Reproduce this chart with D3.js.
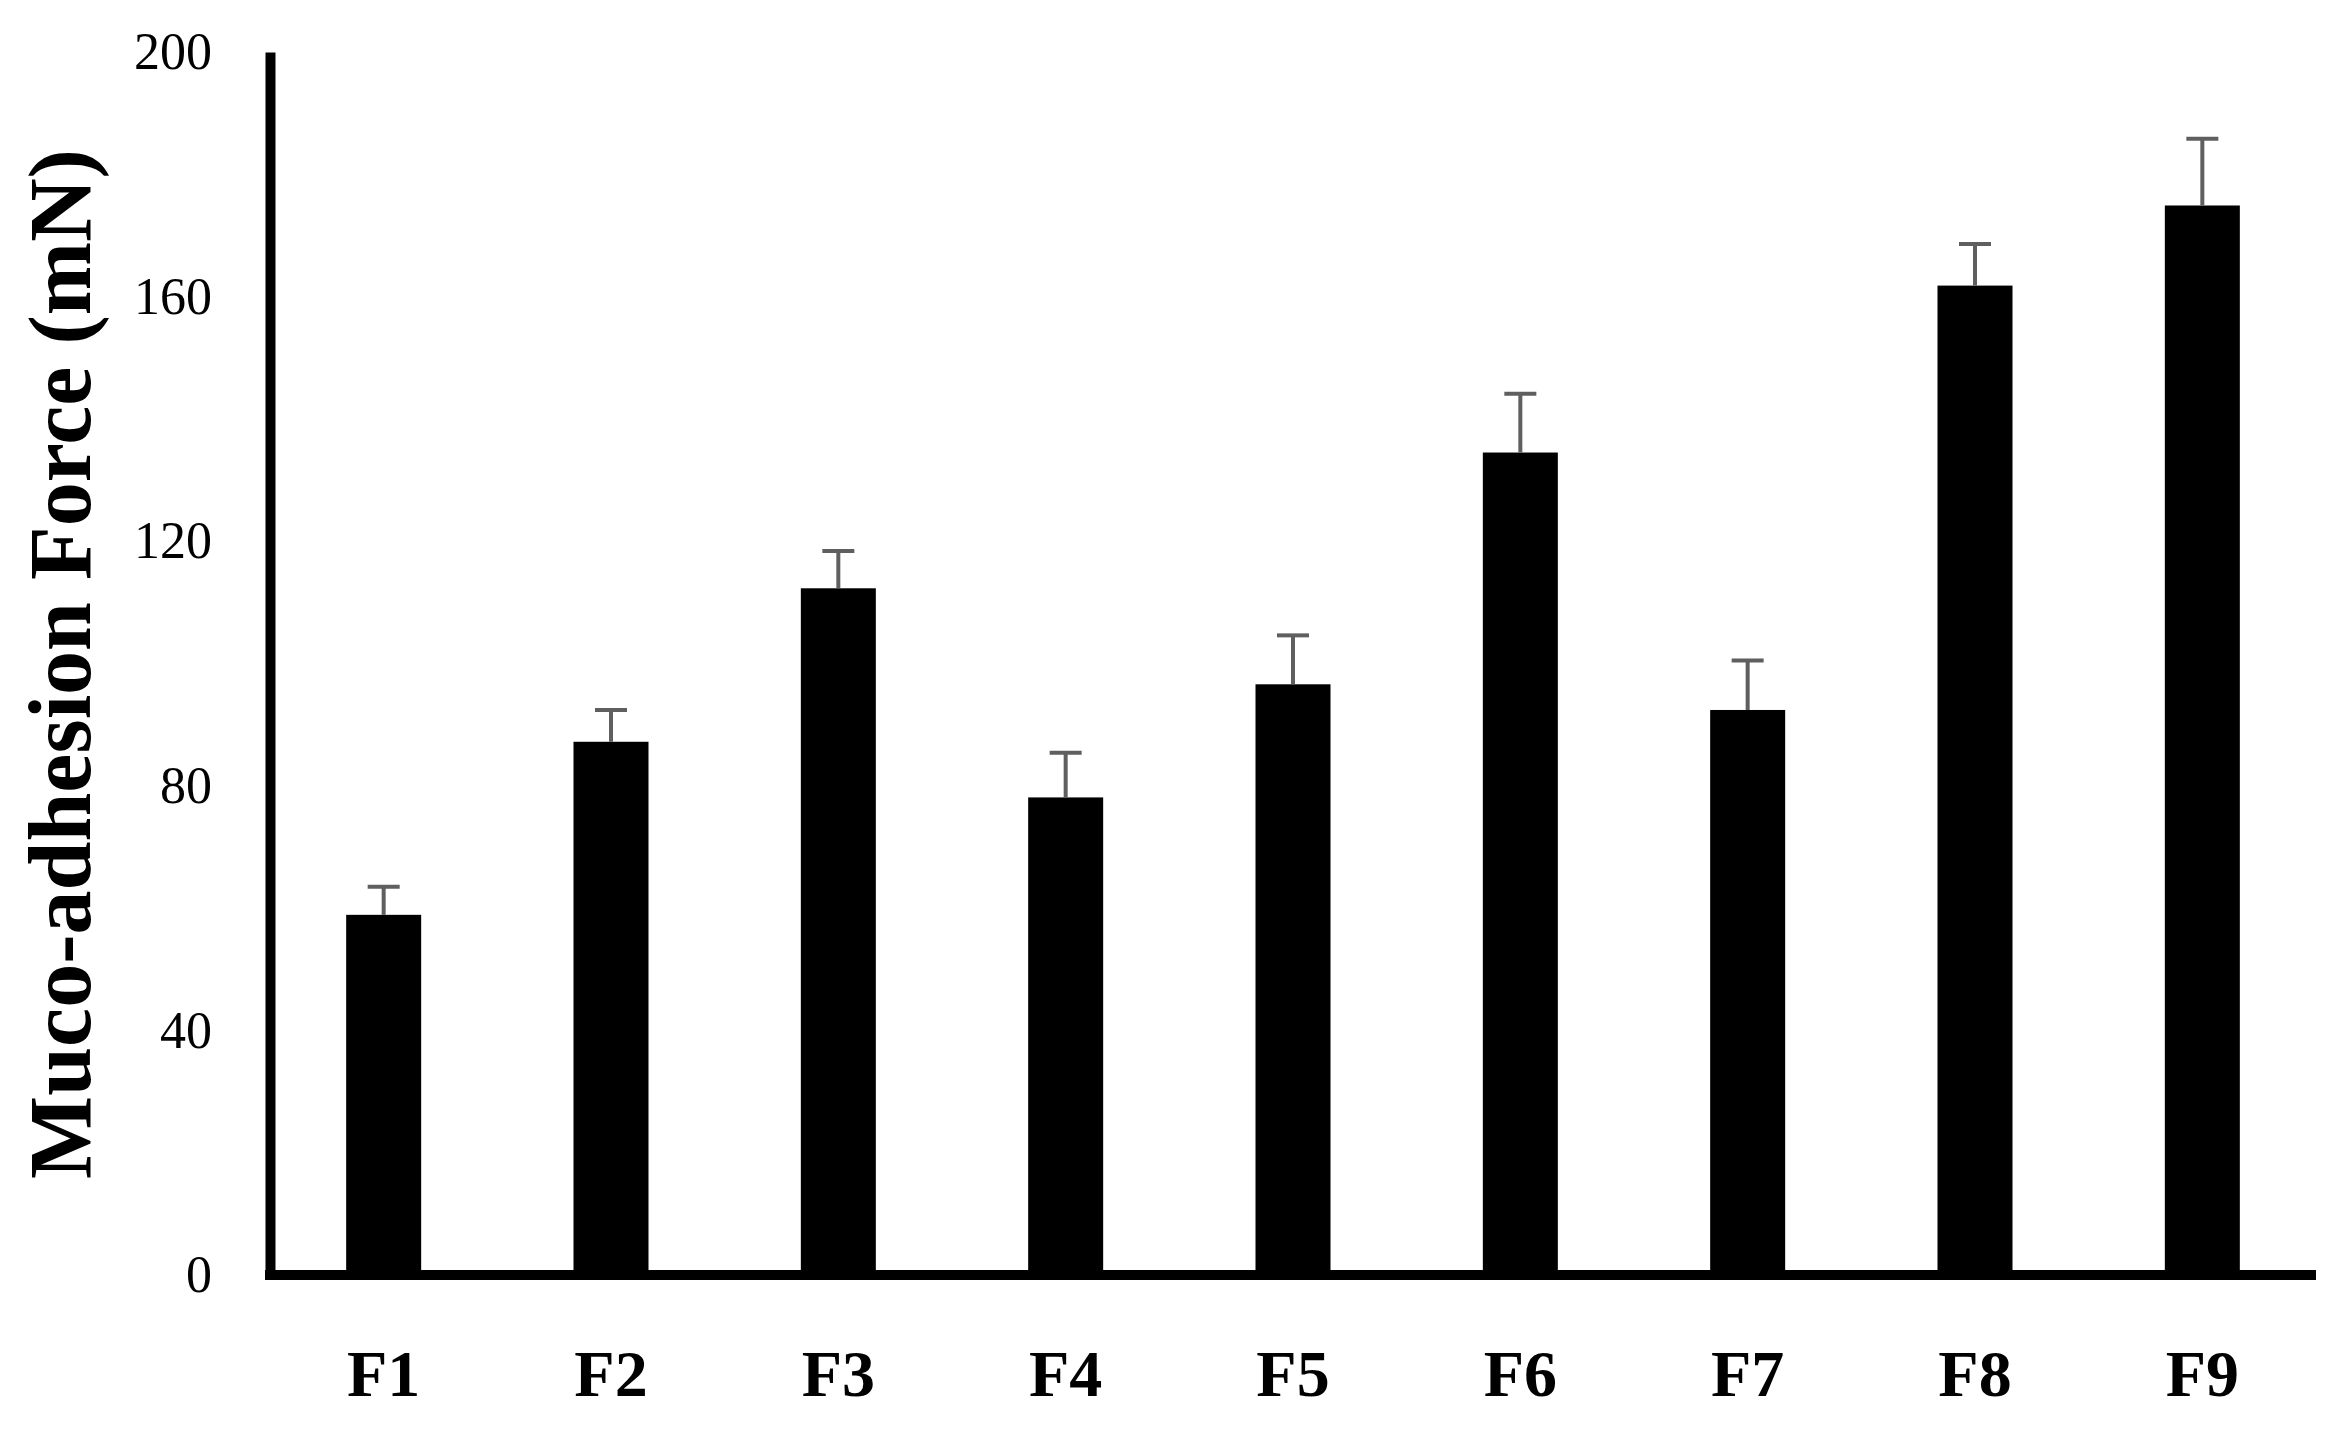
<!DOCTYPE html>
<html>
<head>
<meta charset="utf-8">
<script src="https://cdn.jsdelivr.net/npm/d3@7"></script>
<style>
  body { margin: 0; background: #fff; }
  .tick text { font-family: "Liberation Serif", "DejaVu Serif", serif; fill: #000; }
</style>
</head>
<body>
<div id="chart"></div>
<script>
var categories = ["F1", "F2", "F3", "F4", "F5", "F6", "F7", "F8", "F9"];
var force = [58.9, 87.2, 112.3, 78.1, 96.6, 134.5, 92.4, 161.8, 174.9];
var err = [4.6, 5.2, 6.1, 7.3, 8.0, 9.6, 8.1, 6.8, 10.9];
var yTicks = [0, 40, 80, 120, 160, 200];

var width = 2328, height = 1441;
var left = 270, right = 2316, top_y = 52, base_y = 1275;

var svg = d3.select('#chart').append('svg')
  .attr('width', width)
  .attr('height', height)
  .style('background', '#fff');

var x = d3.scaleBand()
  .domain(categories)
  .range([left, right])
  .padding(0);

var y = d3.scaleLinear()
  .domain([0, 200])
  .range([base_y, top_y]);

var barW = 75;

// bars
svg.append('g').selectAll('rect')
  .data(categories)
  .enter().append('rect')
  .attr('x', function(d) { return x(d) + x.bandwidth()/2 - barW/2; })
  .attr('y', function(d, i) { return y(force[i]); })
  .attr('width', barW)
  .attr('height', function(d, i) { return y(0) - y(force[i]); })
  .attr('fill', '#000');

// error bars (upper only)
var eb = svg.append('g')
  .attr('stroke', '#5f5f5f')
  .attr('stroke-width', 4);

eb.selectAll('line.v')
  .data(categories)
  .enter().append('line')
  .attr('class', 'v')
  .attr('x1', function(d) { return x(d) + x.bandwidth()/2; })
  .attr('x2', function(d) { return x(d) + x.bandwidth()/2; })
  .attr('y1', function(d, i) { return y(force[i]); })
  .attr('y2', function(d, i) { return y(force[i] + err[i]); });

eb.selectAll('line.cap')
  .data(categories)
  .enter().append('line')
  .attr('class', 'cap')
  .attr('x1', function(d) { return x(d) + x.bandwidth()/2 - 16; })
  .attr('x2', function(d) { return x(d) + x.bandwidth()/2 + 16; })
  .attr('y1', function(d, i) { return y(force[i] + err[i]); })
  .attr('y2', function(d, i) { return y(force[i] + err[i]); });

// y axis
var yAxis = svg.append('g')
  .attr('transform', `translate(${left}, 0)`)
  .call(d3.axisLeft(y).tickValues(yTicks).tickSize(0).tickPadding(58));

yAxis.select('.domain')
  .attr('stroke', '#000')
  .attr('stroke-width', 10);

yAxis.selectAll('.tick text')
  .style('font-size', '52px');

// x axis
var xAxis = svg.append('g')
  .attr('transform', `translate(0, ${base_y})`)
  .call(d3.axisBottom(x).tickSize(0).tickPadding(74));

xAxis.select('.domain').remove();
xAxis.append('line')
  .attr('x1', left - 5)
  .attr('x2', right)
  .attr('y1', 0)
  .attr('y2', 0)
  .attr('stroke', '#000')
  .attr('stroke-width', 10);

xAxis.selectAll('.tick text')
  .style('font-size', '66px')
  .style('font-weight', 'bold');

// y title
svg.append('text')
  .attr('transform', `translate(90, 664) rotate(-90)`)
  .attr('text-anchor', 'middle')
  .style('font-family', '"Liberation Serif", "DejaVu Serif", serif')
  .style('font-size', '88px')
  .style('font-weight', 'bold')
  .attr('fill', '#000')
  .text('Muco-adhesion Force (mN)');
</script>
</body>
</html>
